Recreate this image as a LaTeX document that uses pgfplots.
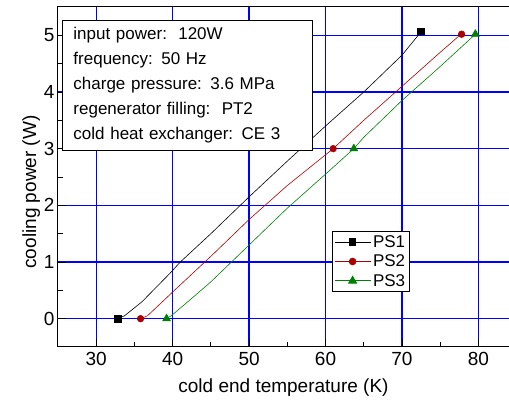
\documentclass[border=0pt]{standalone}
\usepackage{pgfplots}
\pgfplotsset{compat=1.18}
\usepackage{fontspec}
\setmainfont{Liberation Sans}
\definecolor{ps2red}{RGB}{170,0,0}
\definecolor{ps3green}{RGB}{0,128,0}
\pgfplotsset{
    longleg/.style={
        legend image code/.code={
            \draw[mark=none, line width=0.9pt] (0pt,0pt) -- (36pt,0pt);
            \draw[line width=0.9pt] plot coordinates {(18pt,0pt)};
        }
    }
}
\begin{document}
\begin{tikzpicture}
\begin{axis}[
    scale only axis,
    width=451pt, height=340pt,
    xmin=25, xmax=84, ymin=-0.5, ymax=5.5,
    xtick={30,40,...,80}, ytick={0,1,...,5},
    minor x tick num=1, minor y tick num=1,
    xtick pos=bottom, ytick pos=left,
    tick align=inside,
    major tick length=8pt, minor tick length=5pt,
    tick style={black, line width=0.8pt},
    grid=major,
    major grid style={blue, line width=1.3pt},
    axis line style={line width=1pt},
    xlabel={cold end temperature (K)},
    ylabel={cooling power (W)},
    label style={font=\fontsize{19}{22}\selectfont},
    tick label style={font=\fontsize{19}{22}\selectfont},
    /pgf/number format/assume math mode=true,
    xticklabel style={yshift=-2pt},
    xlabel style={yshift=-6pt},
    ylabel style={at={(ticklabel cs:0.456)}, yshift=-3pt},
    legend style={at={(0.607,0.341)}, anchor=north west, draw=black, line width=0.8pt,
        font=\fontsize{17}{18}\selectfont, row sep=2pt, inner sep=2pt},
    legend cell align=left,
]
\addplot[black, line width=0.6pt, mark=square*, mark size=3.3pt, mark indices={1,13},
    mark options={solid, fill=black}, longleg]
coordinates {
    (32.8,0) (33.7,0.05) (36,0.3) (39.5,0.78) (41,1.0) (45,1.5) (50,2.15)
    (55,2.78) (60,3.4) (65,4.0) (70,4.65) (72,4.98) (72.5,5.07)
};
\addlegendentry{PS1}
\addplot[ps2red, line width=0.6pt, mark=*, mark size=3.3pt, mark indices={1,7,12},
    mark options={solid, fill=ps2red}, longleg]
coordinates {
    (35.8,0) (36.7,0.05) (40,0.47) (45,1.1) (50,1.75) (55,2.35) (61,3.0)
    (65,3.5) (70,4.1) (75,4.7) (77.3,4.97) (77.8,5.02)
};
\addlegendentry{PS2}
\addplot[ps3green, line width=0.6pt, mark=triangle*, mark size=4.5pt, mark indices={1,8,13},
    mark options={solid, fill=ps3green}, longleg]
coordinates {
    (39.2,0) (39.8,0.05) (42,0.3) (45,0.65) (50,1.3) (55,1.95) (60,2.55)
    (63.7,3.0) (65,3.2) (70,3.85) (75,4.45) (79.2,4.97) (79.6,5.02)
};
\addlegendentry{PS3}
\node[draw=black, line width=0.8pt, fill=white, anchor=north west, align=left,
    text width=228pt, inner xsep=11pt, inner ysep=7pt,
    font=\fontsize{17}{25}\selectfont]
    at (rel axis cs:0.009,0.962) {input power:\ \ 120W\\
    frequency: 50 Hz\\
    charge pressure: 3.6 MPa\\
    regenerator filling:\ \ PT2\\
    cold heat exchanger: CE 3};
\end{axis}
\pgfresetboundingbox
\path[use as bounding box] ([xshift=-58pt,yshift=-56pt]current axis.south west)
    rectangle ([yshift=7pt]current axis.north east);
\end{tikzpicture}
\end{document}
